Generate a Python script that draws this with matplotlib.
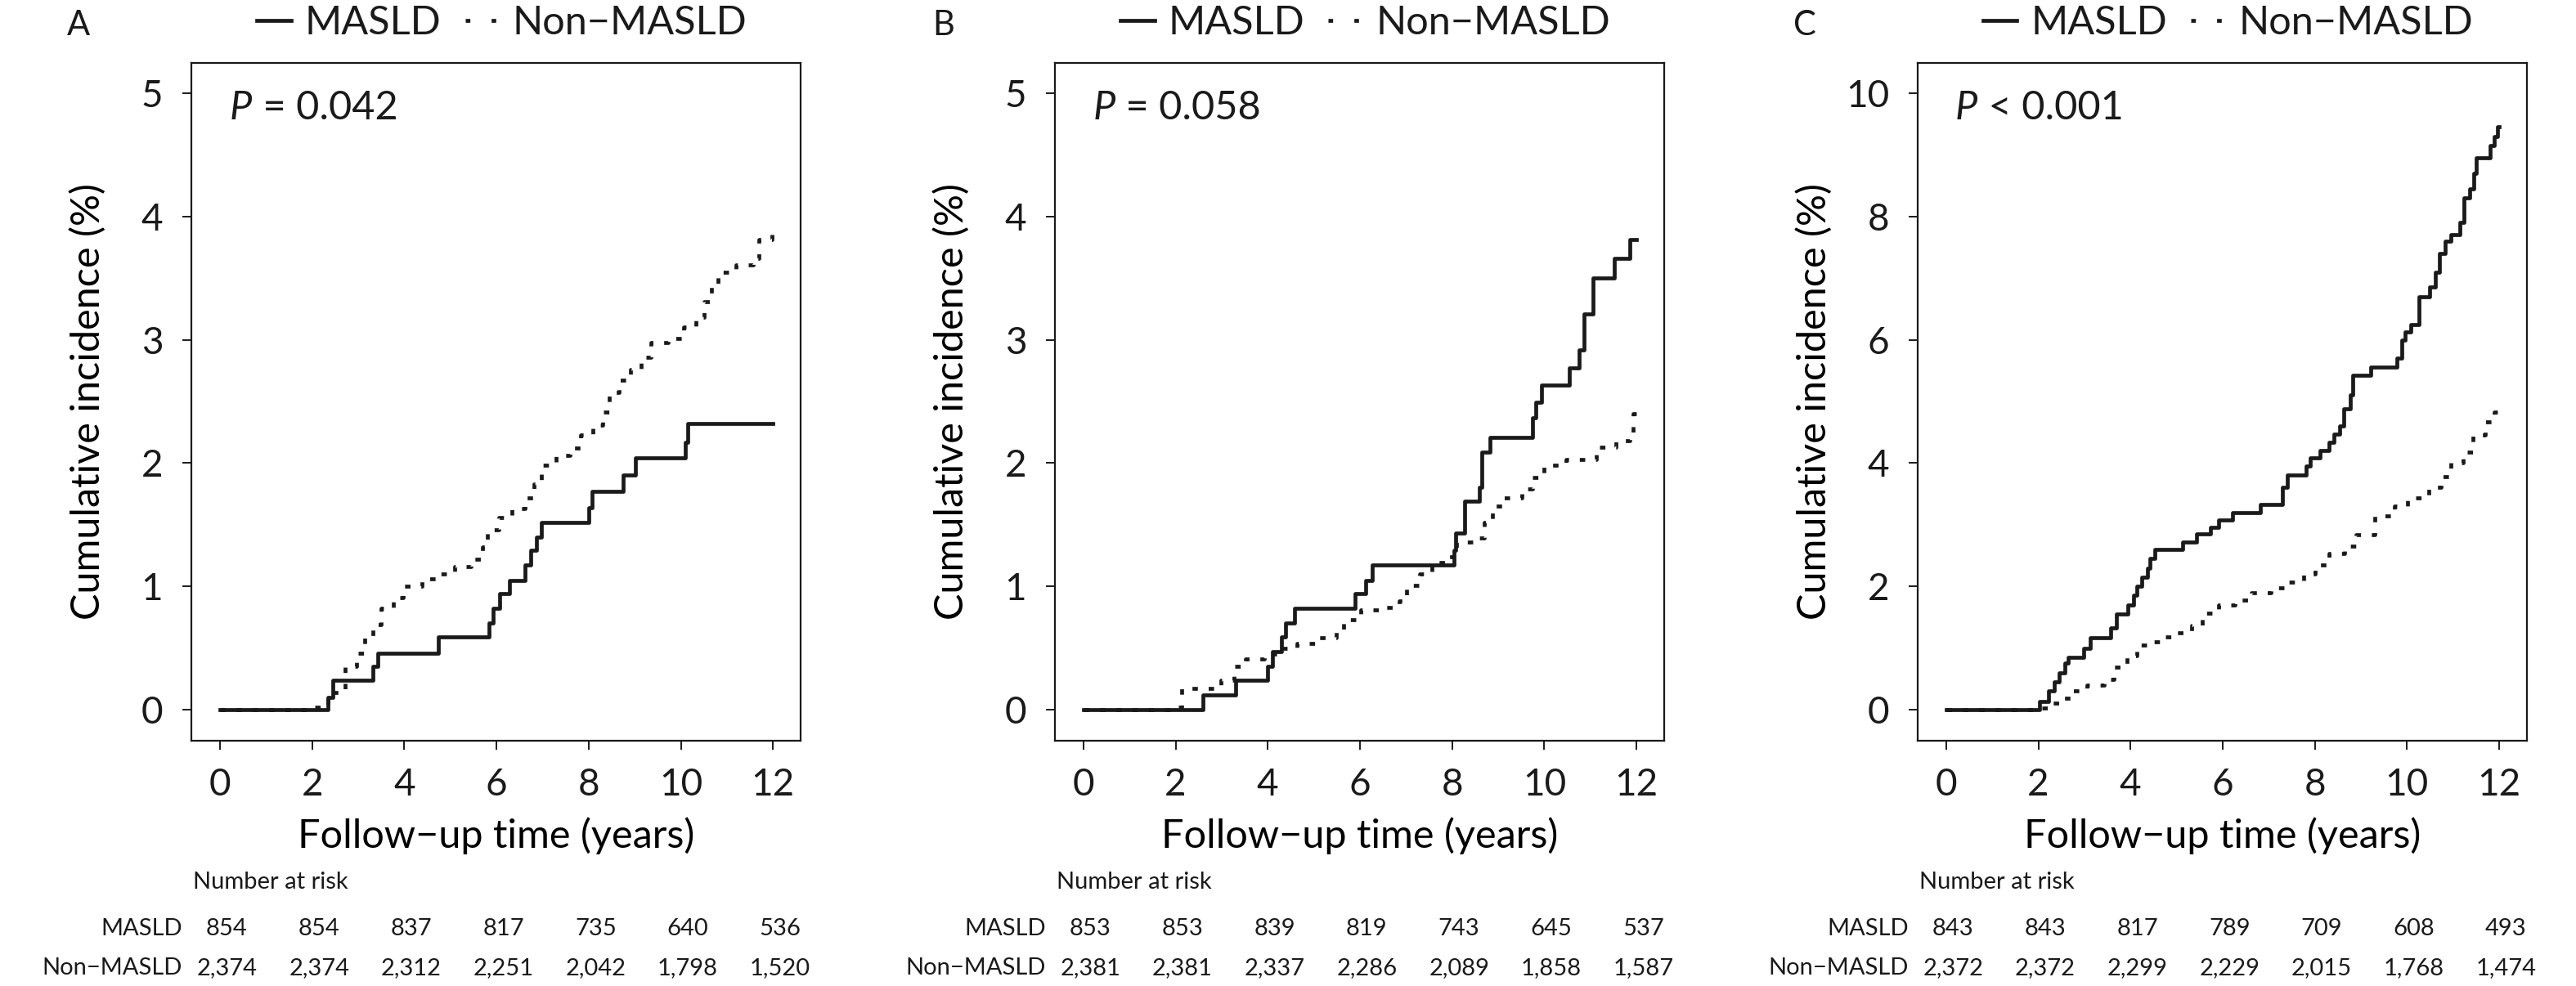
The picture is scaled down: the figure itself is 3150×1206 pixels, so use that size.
import numpy as np
import matplotlib
matplotlib.use("Agg")
import matplotlib.pyplot as plt
from matplotlib.lines import Line2D

plt.rcParams['font.family'] = ['Lato', 'DejaVu Sans']
plt.rcParams['text.color'] = '#1a1a1a'

# ---- data ----
# Panel A
a_masld_t = [0, 2.34, 2.45, 3.31, 3.43, 4.74, 5.83, 5.93, 6.07, 6.28, 6.62, 6.74, 6.86, 6.97,
             8.01, 8.07, 8.74, 9.02, 10.09, 10.15, 12.0]
a_masld_y = [0, 0.10, 0.24, 0.35, 0.46, 0.59, 0.70, 0.82, 0.94, 1.05, 1.17, 1.29, 1.40, 1.52,
             1.64, 1.77, 1.90, 2.04, 2.17, 2.32, 2.32]
a_non_t = [0, 2.0, 2.34, 2.72, 2.96, 3.14, 3.31, 3.49, 3.77, 3.97, 4.38, 4.74, 5.10, 5.45, 5.69,
           5.81, 6.05, 6.34, 6.62, 6.82, 6.97, 7.30, 7.59, 7.83, 8.09, 8.30, 8.45, 8.66, 8.90,
           9.14, 9.35, 9.73, 10.06, 10.32, 10.50, 10.66, 10.80, 11.20, 11.57, 11.69, 11.97, 12.0]
a_non_y = [0, 0.02, 0.14, 0.35, 0.46, 0.59, 0.69, 0.82, 0.91, 1.00, 1.06, 1.10, 1.16, 1.22, 1.32,
           1.46, 1.56, 1.63, 1.72, 1.83, 1.98, 2.06, 2.12, 2.23, 2.31, 2.41, 2.57, 2.67, 2.76,
           2.86, 2.98, 3.01, 3.10, 3.18, 3.31, 3.45, 3.55, 3.61, 3.66, 3.81, 3.93, 3.93]

# Panel B
b_masld_t = [0, 2.60, 3.31, 3.99, 4.10, 4.29, 4.38, 4.58, 5.89, 6.13, 6.27, 8.04, 8.07, 8.27,
             8.60, 8.65, 8.83, 9.74, 9.82, 9.94, 10.54, 10.75, 10.87, 11.05, 11.52, 11.85, 12.0]
b_masld_y = [0, 0.12, 0.24, 0.35, 0.47, 0.59, 0.70, 0.82, 0.94, 1.05, 1.17, 1.29, 1.43, 1.69,
             1.80, 2.09, 2.21, 2.37, 2.49, 2.63, 2.77, 2.92, 3.21, 3.50, 3.66, 3.81, 3.81]
b_non_t = [0, 2.0, 2.14, 2.98, 3.27, 3.51, 3.93, 4.29, 4.64, 5.12, 5.48, 5.65, 6.01, 6.43, 6.85,
           7.02, 7.29, 7.56, 7.92, 8.10, 8.51, 8.69, 8.87, 9.11, 9.52, 9.74, 10.00, 10.48,
           11.13, 11.55, 11.85, 11.93, 12.0]
b_non_y = [0, 0.02, 0.17, 0.24, 0.35, 0.41, 0.45, 0.50, 0.54, 0.58, 0.63, 0.73, 0.81, 0.83, 0.88,
           1.01, 1.10, 1.19, 1.24, 1.36, 1.39, 1.52, 1.65, 1.72, 1.79, 1.88, 1.98, 2.03,
           2.13, 2.18, 2.23, 2.40, 2.40]

# Panel C
c_masld_t = [0, 2.02, 2.23, 2.35, 2.46, 2.58, 2.64, 2.98, 3.12, 3.57, 3.69, 3.95, 4.07, 4.13,
             4.25, 4.37, 4.43, 4.52, 5.14, 5.44, 5.74, 5.92, 6.21, 6.81, 7.29, 7.40, 7.82,
             7.90, 8.12, 8.30, 8.42, 8.54, 8.62, 8.77, 8.83, 9.21, 9.79, 9.88, 9.96, 10.08,
             10.26, 10.50, 10.62, 10.71, 10.83, 10.95, 11.15, 11.24, 11.36, 11.45, 11.51,
             11.81, 11.90, 11.96, 12.0]
c_masld_y = [0, 0.13, 0.30, 0.45, 0.60, 0.75, 0.85, 1.00, 1.17, 1.33, 1.55, 1.70, 1.85, 2.00,
             2.15, 2.30, 2.45, 2.60, 2.72, 2.85, 2.95, 3.07, 3.20, 3.33, 3.60, 3.80, 3.95,
             4.08, 4.20, 4.33, 4.47, 4.60, 4.88, 5.10, 5.42, 5.55, 5.70, 6.00, 6.13, 6.25,
             6.70, 6.85, 7.10, 7.40, 7.60, 7.70, 7.90, 8.30, 8.45, 8.70, 8.95,
             9.15, 9.30, 9.45, 9.45]
c_non_t = [0, 2.05, 2.29, 2.46, 2.70, 3.06, 3.42, 3.65, 3.93, 4.13, 4.43, 4.73, 4.96, 5.32, 5.56,
           5.92, 6.27, 6.63, 7.05, 7.40, 7.76, 8.00, 8.30, 8.65, 8.89, 9.31, 9.73, 10.02,
           10.32, 10.48, 10.74, 10.95, 11.21, 11.43, 11.69, 11.90, 12.0]
c_non_y = [0, 0.02, 0.10, 0.18, 0.30, 0.40, 0.49, 0.69, 0.87, 1.05, 1.10, 1.18, 1.25, 1.36, 1.56,
           1.70, 1.77, 1.90, 1.97, 2.07, 2.20, 2.35, 2.53, 2.65, 2.84, 3.14, 3.30, 3.43,
           3.45, 3.60, 3.78, 4.00, 4.18, 4.45, 4.67, 4.83, 4.83]

risk_times = [0, 2, 4, 6, 8, 10, 12]
a_risk_masld = ['854', '854', '837', '817', '735', '640', '536']
a_risk_non = ['2,374', '2,374', '2,312', '2,251', '2,042', '1,798', '1,520']
b_risk_masld = ['853', '853', '839', '819', '743', '645', '537']
b_risk_non = ['2,381', '2,381', '2,337', '2,286', '2,089', '1,858', '1,587']
c_risk_masld = ['843', '843', '817', '789', '709', '608', '493']
c_risk_non = ['2,372', '2,372', '2,299', '2,229', '2,015', '1,768', '1,474']

panels = [
    ('A', ' = 0.042', 5, [0, 1, 2, 3, 4, 5],
     a_masld_t, a_masld_y, a_non_t, a_non_y, a_risk_masld, a_risk_non),
    ('B', ' = 0.058', 5, [0, 1, 2, 3, 4, 5],
     b_masld_t, b_masld_y, b_non_t, b_non_y, b_risk_masld, b_risk_non),
    ('C', ' < 0.001', 10, [0, 2, 4, 6, 8, 10],
     c_masld_t, c_masld_y, c_non_t, c_non_y, c_risk_masld, c_risk_non),
]

lefts = [0.0743, 0.4095, 0.7444]
letter_x = [96, 1154, 2207]

fig = plt.figure(figsize=(31.5, 12.06), dpi=100)
ink = '#1a1a1a'
dots = (0, (1.4, 2.8))
lw = 3.4

for i, (letter, ptxt, ymax, yticks, mt, my, nt, ny, rm, rn) in enumerate(panels):
    ax = fig.add_axes([lefts[i], 0.2488, 0.2365, 0.6874])
    ax.step(mt, my, where='post', color=ink, lw=lw)
    ax.step(nt, ny, where='post', color=ink, lw=lw, linestyle=dots)

    ax.set_xlim(-0.62, 12.6)
    ax.set_ylim(-0.0504 * ymax, 1.049 * ymax)
    ax.set_xticks([0, 2, 4, 6, 8, 10, 12])
    ax.set_yticks(yticks)
    ax.tick_params(labelsize=33, length=8, width=1.4, color=ink, labelcolor=ink)
    ax.tick_params(axis='y', pad=17)
    ax.tick_params(axis='x', pad=16)
    for s in ax.spines.values():
        s.set_linewidth(1.6)
        s.set_color(ink)
    ax.set_xlabel('Follow\u2212up time (years)', fontsize=35)
    ax.set_ylabel('Cumulative incidence (%)', fontsize=35)
    ax.xaxis.set_label_coords(0.5, -0.113)
    ax.yaxis.set_label_coords(-0.140, 0.5)

    ax.text(0.062, 0.934, 'P', transform=ax.transAxes, fontsize=35, style='italic',
            ha='left', va='center')
    ax.text(0.100, 0.934, ptxt, transform=ax.transAxes, fontsize=35,
            ha='left', va='center')

    handles = [Line2D([], [], color=ink, lw=lw),
               Line2D([], [], color=ink, lw=lw, linestyle=(0, (1.2, 5.5)))]
    ax.legend(handles, ['MASLD', 'Non\u2212MASLD'], loc='center',
              bbox_to_anchor=(0.51, 1 + 49 / 829), ncol=2, frameon=False, fontsize=35,
              handlelength=0.85, handletextpad=0.35, columnspacing=0.6, borderpad=0.0)

    fig.text(letter_x[i] / 3150, 1 - 31 / 1206, letter, fontsize=30,
             ha='center', va='center')

    # number at risk table
    tr = ax.get_xaxis_transform()
    ax.text(-0.59, -0.209, 'Number at risk', transform=tr, fontsize=21,
            ha='left', va='center')
    ax.text(-0.82, -0.277, 'MASLD', transform=tr, fontsize=21, ha='right', va='center')
    ax.text(-0.82, -0.335, 'Non\u2212MASLD', transform=tr, fontsize=21, ha='right', va='center')
    for t, m, n in zip(risk_times, rm, rn):
        ax.text(t + 0.15, -0.277, m, transform=tr, fontsize=21, ha='center', va='center')
        ax.text(t + 0.15, -0.335, n, transform=tr, fontsize=21, ha='center', va='center')

fig.savefig('out.png', dpi=100)
